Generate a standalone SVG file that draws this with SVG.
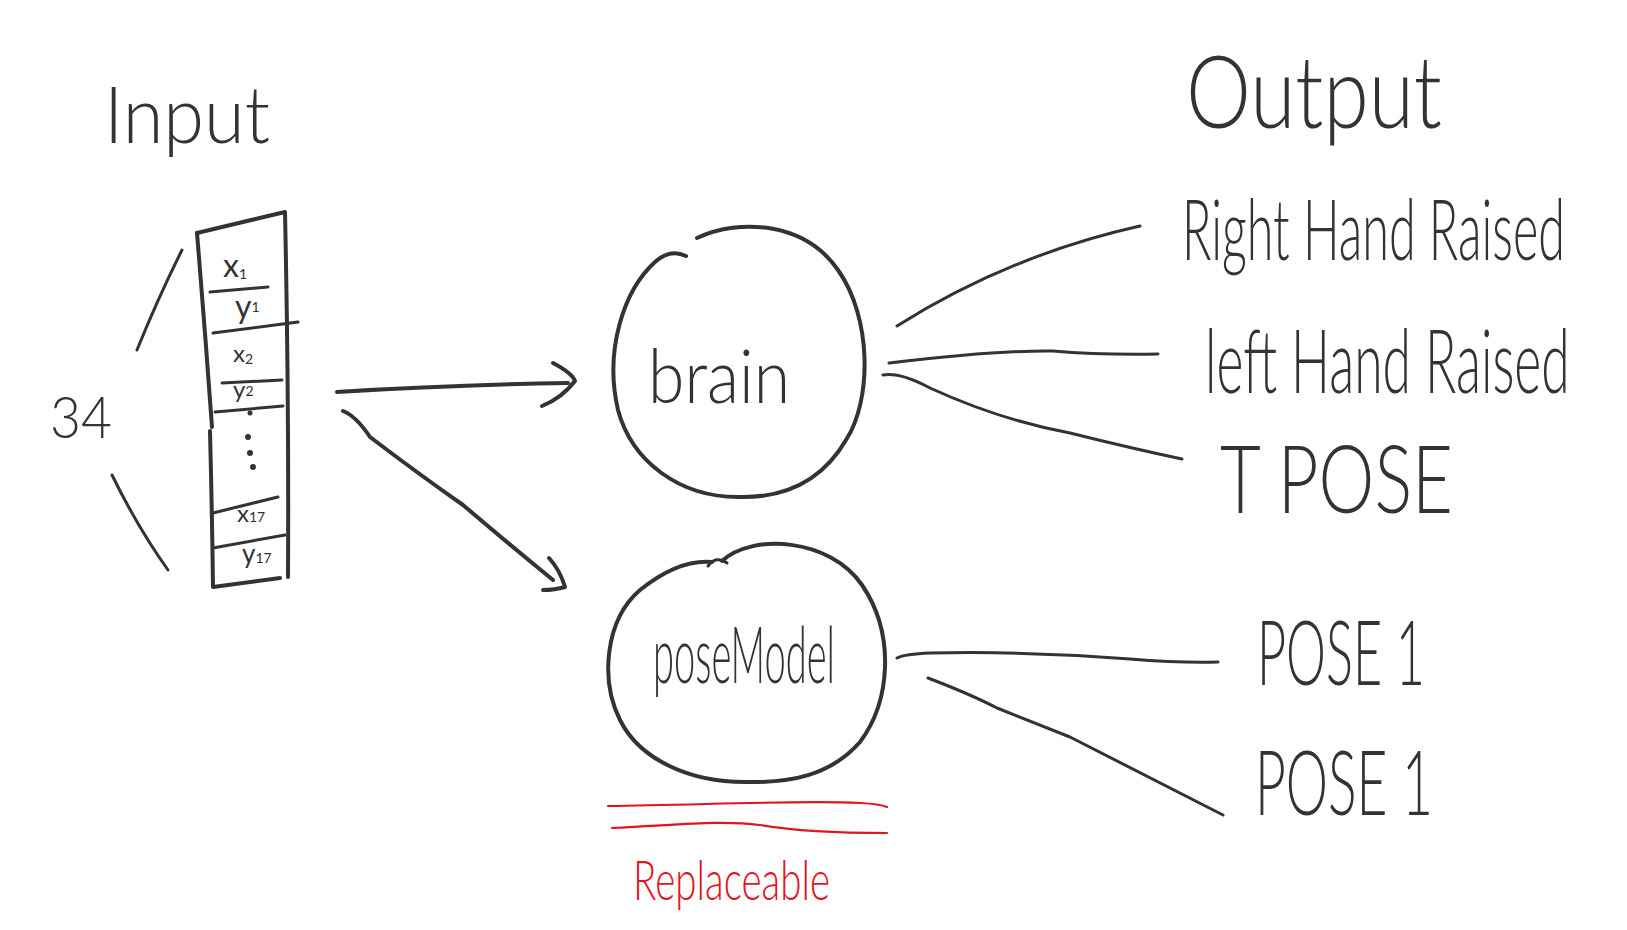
<svg xmlns="http://www.w3.org/2000/svg" width="1627" height="930" viewBox="0 0 1627 930">
<style>
.ink{fill:none;stroke:#333;stroke-width:4;stroke-linecap:round;stroke-linejoin:round}
.thin{fill:none;stroke:#333;stroke-width:3;stroke-linecap:round;stroke-linejoin:round}
.red{fill:none;stroke:#e3141e;stroke-width:2.2;stroke-linecap:round}
.t{font-family:Lato,"Liberation Sans",sans-serif;font-weight:300;fill:#333}
.tr{font-family:Lato,"Liberation Sans",sans-serif;font-weight:300;fill:#e3141e}
.s{font-family:Lato,"Liberation Sans",sans-serif;font-weight:400;fill:#333}
</style>
<rect width="1627" height="930" fill="#fff"/>

<g id="title-input"><text class="t" x="104" y="143" font-size="78" textLength="166" lengthAdjust="spacingAndGlyphs">Input</text></g>
<g id="title-output"><text class="t" x="1186" y="128" font-size="100" textLength="256" lengthAdjust="spacingAndGlyphs">Output</text></g>

<g id="input-vector">
<path class="ink" d="M197,233 L285,212 Q289,400 288,577"/>
<path class="ink" d="M197,233 Q205,330 212,427"/>
<path class="ink" d="M210,431 Q212,510 213,587 L280,578"/>
<path class="thin" d="M210,292 L268,287"/>
<path class="thin" d="M213,333 L298,322"/>
<path class="thin" d="M222,383 L282,380"/>
<path class="thin" d="M215,412 L283,406"/>
<path class="thin" d="M213,513 L278,497"/>
<path class="thin" d="M213,548 L285,535"/>
<text class="s" x="223" y="277" font-size="32">x<tspan font-size="14" dy="2">1</tspan></text>
<text class="s" x="235" y="318" font-size="32">y<tspan font-size="14" dy="-6">1</tspan></text>
<text class="s" x="233" y="362" font-size="24">x<tspan font-size="14" dy="2">2</tspan></text>
<text class="s" x="233" y="398" font-size="24">y<tspan font-size="14" dy="-2">2</tspan></text>
<text class="s" x="237" y="522" font-size="24">x<tspan font-size="14" dy="0">17</tspan></text>
<text class="s" x="242" y="563" font-size="26">y<tspan font-size="14" dy="0">17</tspan></text>
<circle cx="250" cy="413" r="2.5" fill="#333"/>
<circle cx="248" cy="437" r="3" fill="#333"/>
<circle cx="250" cy="453" r="3" fill="#333"/>
<circle cx="253" cy="467" r="3" fill="#333"/>
<path class="thin" d="M182,250 Q158,298 137,350"/>
<path class="thin" d="M112,475 Q138,528 168,570"/>
<text class="t" x="50" y="438" font-size="57" textLength="62" lengthAdjust="spacingAndGlyphs">34</text>
</g>

<g id="brain">
<path class="ink" d="M697,238 C740,218 805,222 838,270 C872,318 872,400 846,440 C818,488 775,498 738,497 C680,497 632,462 618,410 C604,350 624,290 655,262 C665,253 676,251 686,256"/>
<text class="t" x="648" y="403" font-size="74" textLength="142" lengthAdjust="spacingAndGlyphs">brain</text>
</g>

<g id="poseModel">
<path class="ink" d="M722,561 C752,533 830,538 862,585 C896,635 890,702 860,742 C830,776 790,783 745,782 C690,782 640,760 620,720 C600,680 605,620 640,590 C665,570 690,560 712,562"/>
<path class="thin" d="M708,566 Q716,555 727,563"/>
<text class="t" x="653" y="683" font-size="78" textLength="182" lengthAdjust="spacingAndGlyphs">poseModel</text>
</g>

<g id="replaceable">
<path class="red" d="M608,806 C700,805 800,800 860,803 Q880,804 887,807"/>
<path class="red" d="M612,828 C680,825 720,820 760,825 C800,832 850,833 887,833"/>
<text class="tr" x="633" y="900" font-size="56" textLength="197" lengthAdjust="spacingAndGlyphs">Replaceable</text>
</g>

<g id="out-right"><text class="t" transform="translate(1182,260) scale(0.575,1)" x="0" y="0" font-size="85" textLength="666" lengthAdjust="spacingAndGlyphs">Right Hand Raised</text></g>
<g id="out-left"><text class="t" transform="translate(1205,393) scale(0.594,1)" x="0" y="0" font-size="88" textLength="614" lengthAdjust="spacingAndGlyphs">left Hand Raised</text></g>
<g id="out-tpose"><text class="t" x="1220" y="513" font-size="95" textLength="233" lengthAdjust="spacingAndGlyphs">T POSE</text></g>
<g id="out-pose1a"><text class="t" x="1257" y="685" font-size="90" textLength="168" lengthAdjust="spacingAndGlyphs">POSE 1</text></g>
<g id="out-pose1b"><text class="t" x="1255" y="815" font-size="90" textLength="178" lengthAdjust="spacingAndGlyphs">POSE 1</text></g>

<g id="connectors">
<path class="ink" d="M337,392 Q450,385 568,383"/>
<path class="ink" d="M553,363 Q572,373 575,381 Q562,398 542,406"/>
<path class="ink" d="M343,411 Q356,416 370,437 Q420,475 463,505 Q510,545 553,580"/>
<path class="ink" d="M549,558 Q560,570 565,587 Q555,590 543,590"/>
<path class="thin" d="M897,326 Q1010,255 1140,226"/>
<path class="thin" d="M889,363 Q1000,350 1053,351 Q1100,355 1158,354"/>
<path class="thin" d="M883,375 Q900,372 930,388 Q1000,420 1070,433 Q1130,448 1182,459"/>
<path class="thin" d="M897,658 Q905,654 930,653 Q1030,651 1130,659 Q1180,663 1218,662"/>
<path class="thin" d="M928,678 Q970,694 997,708 Q1040,725 1070,737 Q1150,778 1223,815"/>
</g>
</svg>
